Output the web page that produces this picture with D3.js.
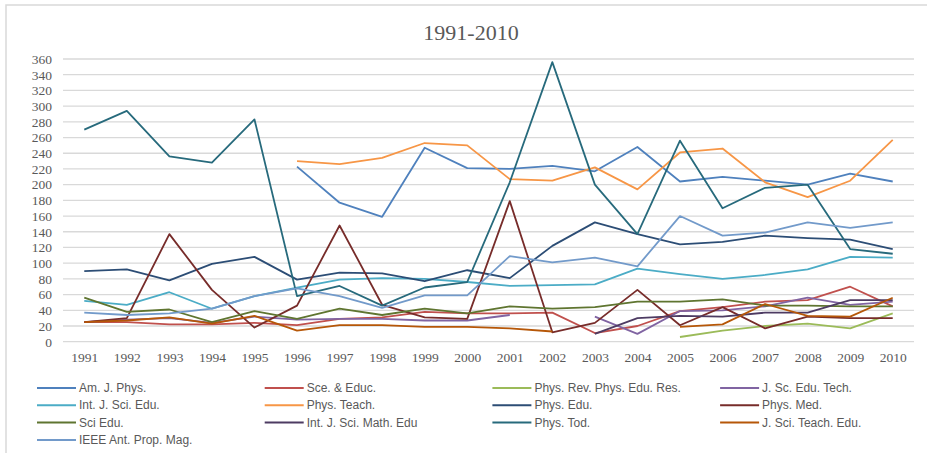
<!DOCTYPE html>
<html>
<head>
<meta charset="utf-8">
<script src="https://cdn.jsdelivr.net/npm/d3@7"></script>
<style>
  body { margin: 0; background: #fff; }
  svg { display: block; }
</style>
</head>
<body>
<div id="chart"></div>
<script>
// categories
var years = [1991, 1992, 1993, 1994, 1995, 1996, 1997, 1998, 1999, 2000,
             2001, 2002, 2003, 2004, 2005, 2006, 2007, 2008, 2009, 2010];
var yTicks = [0, 20, 40, 60, 80, 100, 120, 140, 160, 180, 200, 220, 240, 260, 280, 300, 320, 340, 360];

// series values (null = no data that year)
var amJPhys      = [null, null, null, null, null, 223, 177, 159, 247, 221, 220, 224, 217, 248, 204, 210, 205, 200, 214, 204];
var sceEduc      = [25, 25, 22, 22, 24, 21, 29, 31, 38, 36, 36, 37, 11, 20, 39, 44, 51, 53, 70, 45];
var physRevPER   = [null, null, null, null, null, null, null, null, null, null, null, null, null, null, 6, 14, 20, 23, 17, 36];
var jScEduTech   = [25, 28, 30, 24, 32, 28, 29, 29, 27, 27, 34, null, 32, 10, 39, 40, 45, 56, 47, 51];
var intJSciEdu   = [52, 47, 63, 42, 58, 69, 79, 81, 80, 76, 71, 72, 73, 93, 86, 80, 85, 92, 108, 107];
var physTeach    = [null, null, null, null, null, 230, 226, 234, 253, 250, 207, 205, 222, 194, 241, 246, 203, 184, 205, 257];
var physEdu      = [90, 92, 78, 99, 108, 79, 88, 87, 77, 91, 81, 122, 152, 137, 124, 127, 135, 132, 130, 118];
var physMed      = [25, 30, 137, 66, 18, 46, 148, 47, 31, 29, 179, 12, 24, 66, 21, 44, 17, 32, 30, 30];
var sciEdu       = [56, 38, 41, 25, 39, 29, 42, 34, 42, 36, 45, 42, 44, 51, 51, 54, 46, 46, 45, 45];
var intJSciMath  = [null, null, null, null, null, null, null, null, null, null, null, null, 10, 30, 33, 32, 37, 37, 53, 53];
var physTod      = [270, 294, 236, 228, 283, 58, 71, 46, 69, 76, 203, 356, 200, 137, 256, 170, 196, 200, 118, 112];
var jSciTeachEdu = [25, 27, 31, 23, 33, 14, 21, 21, 19, 19, 17, 13, null, null, 19, 22, 48, 33, 32, 56];
var ieeeAntProp  = [37, 34, 36, 42, 58, 68, 58, 43, 59, 59, 109, 101, 107, 96, 160, 135, 139, 152, 145, 152];

var seriesNames = ["Am. J. Phys.", "Sce. & Educ.", "Phys. Rev. Phys. Edu. Res.", "J. Sc. Edu. Tech.",
                   "Int. J. Sci. Edu.", "Phys. Teach.", "Phys. Edu.", "Phys. Med.",
                   "Sci Edu.", "Int. J. Sci. Math. Edu", "Phys. Tod.", "J. Sci. Teach. Edu.",
                   "IEEE Ant. Prop. Mag."];
var seriesValues = [amJPhys, sceEduc, physRevPER, jScEduTech, intJSciEdu, physTeach, physEdu,
                    physMed, sciEdu, intJSciMath, physTod, jSciTeachEdu, ieeeAntProp];
var seriesColors = ["#4F81BD", "#C0504D", "#9BBB59", "#8064A2", "#4BACC6", "#F79646", "#2C4D75",
                    "#772C2A", "#5F7530", "#4D3B62", "#276A7C", "#B65708", "#729ACA"];

var width = 927, height = 453;
var serif = "'Liberation Serif', 'Times New Roman', serif";
var sans = "'Liberation Sans', Arial, sans-serif";

var svg = d3.select("#chart").append("svg")
  .attr("width", width)
  .attr("height", height);

// outer frame (only left/top visible in the picture)
svg.append("rect")
  .attr("x", 6)
  .attr("y", 5)
  .attr("width", 940)
  .attr("height", 470)
  .attr("fill", "none")
  .attr("stroke", "#d9d9d9")
  .attr("stroke-width", 1.5);

svg.append("text")
  .attr("x", 471)
  .attr("y", 40)
  .attr("text-anchor", "middle")
  .style("font-family", serif)
  .style("font-size", "22px")
  .style("fill", "#595959")
  .text("1991-2010");

var x = d3.scalePoint()
  .domain(years)
  .range([63, 914])
  .padding(0.5);

var y = d3.scaleLinear()
  .domain([0, 360])
  .range([341.7, 59]);

// gridlines
svg.append("g")
  .selectAll("line")
  .data(yTicks)
  .join("line")
    .attr("x1", 63)
    .attr("x2", 914)
    .attr("y1", function(d) { return y(d); })
    .attr("y2", function(d) { return y(d); })
    .attr("stroke", "#d9d9d9")
    .attr("stroke-width", 1.3);

var yAxis = svg.append("g")
  .attr("transform", "translate(63,0)")
  .call(d3.axisLeft(y).tickValues(yTicks).tickSize(0).tickPadding(11));
yAxis.select(".domain").remove();
yAxis.selectAll("text")
  .style("font-family", serif)
  .style("font-size", "13.5px")
  .style("fill", "#595959");

var xAxis = svg.append("g")
  .attr("transform", "translate(0,341.7)")
  .call(d3.axisBottom(x).tickSize(0).tickPadding(11));
xAxis.select(".domain").remove();
xAxis.selectAll("text")
  .style("font-family", serif)
  .style("font-size", "13.5px")
  .style("fill", "#595959");

var line = d3.line()
  .defined(function(d) { return d.v != null; })
  .x(function(d) { return x(d.year); })
  .y(function(d) { return y(d.v); });

seriesValues.forEach(function(vals, i) {
  var pts = years.map(function(yr, j) { return {year: yr, v: vals[j]}; });
  svg.append("path")
    .datum(pts)
    .attr("d", line)
    .attr("fill", "none")
    .attr("stroke", seriesColors[i])
    .attr("stroke-width", 1.8)
    .attr("stroke-linejoin", "round");
});

// legend, 4 columns, row-major
var legend = svg.append("g");
seriesNames.forEach(function(name, i) {
  var col = i % 4, row = Math.floor(i / 4);
  var lx = 37 + col * 227.7;
  var ly = 388 + row * 17.3;
  legend.append("line")
    .attr("x1", lx)
    .attr("x2", lx + 39)
    .attr("y1", ly)
    .attr("y2", ly)
    .attr("stroke", seriesColors[i])
    .attr("stroke-width", 2);
  legend.append("text")
    .attr("x", lx + 42)
    .attr("y", ly + 4)
    .style("font-family", sans)
    .style("font-size", "12px")
    .style("fill", "#595959")
    .text(name);
});
</script>
</body>
</html>
